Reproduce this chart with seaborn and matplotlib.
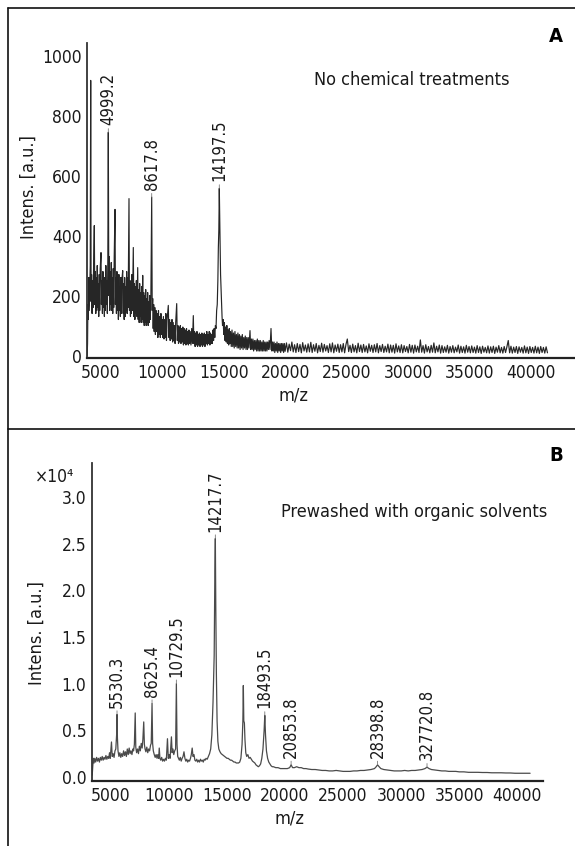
import matplotlib
matplotlib.use("Agg")
import matplotlib.pyplot as plt
from matplotlib import font_manager as fm
from matplotlib.lines import Line2D
from matplotlib.ticker import FormatStrFormatter
import numpy as np
import pandas as pd
import seaborn as sns

# ---------------- data (axis m/z units) ----------------
# Panel A: no chemical treatments (intensity, a.u.)
mz_a_head = [
    3900, 3930, 3960, 3990, 4030, 4070, 4110, 4150, 4187, 4220,
    4260, 4300, 4340, 4380, 4420, 4480, 4520, 4560, 4600, 4640,
    4680, 4720, 4760, 4800, 4840, 4880, 4920, 4960, 5025, 5060,
    5100, 5140, 5180, 5220, 5260, 5300, 5340, 5380, 5420, 5460,
    5500, 5540, 5580, 5619, 5660, 5700, 5740, 5780, 5820, 5860,
    5900, 5940, 5980, 6020, 6060, 6100, 6164, 6200, 6240, 6280,
    6320, 6360, 6400, 6440, 6480, 6520, 6560, 6600, 6640, 6680,
    6720, 6790, 6830, 6870, 6910, 6950, 6990, 7030, 7070, 7110,
    7150, 7190, 7230, 7302, 7340, 7380, 7420, 7460, 7500, 7540,
    7580, 7652, 7700, 7740, 7780, 7820, 7860, 7900, 7950, 8010,
    8050, 8090, 8130, 8170, 8210, 8250, 8290, 8330, 8370, 8417,
    8460, 8500, 8540, 8580, 8620, 8660, 8700, 8740, 8780, 8820,
    8860, 8900, 8940, 8980, 9030, 9080, 9149, 9190, 9230, 9270,
    9310, 9350, 9400, 9450, 9500, 9550, 9600, 9650, 9700, 9750,
    9800, 9850, 9900, 9950, 10000, 10050, 10100, 10150, 10200, 10250,
    10300, 10350, 10400, 10499, 10550, 10600, 10650, 10700, 10750, 10800,
    10850, 10900, 10950, 11000, 11050, 11100, 11182, 11230, 11280, 11330,
    11380, 11430, 11480, 11530, 11580, 11630, 11680, 11730, 11780, 11830,
    11880, 11930, 11980, 12030, 12080, 12130, 12180, 12230, 12280, 12340,
    12400, 12460, 12533, 12580, 12630, 12680, 12730, 12780, 12830, 12880,
    12930, 12980, 13030, 13080, 13130, 13180, 13230, 13280, 13330, 13380,
    13430, 13480, 13530, 13580, 13630, 13680, 13730, 13780, 13830, 13880,
    13930, 13980, 14030, 14080, 14130, 14180, 14230, 14280, 14330, 14380,
    14430, 14480, 14530, 14570, 14610, 14647, 14680, 14710, 14750, 14790,
    14830, 14870, 14910, 14960, 15010, 15060, 15110, 15160, 15210, 15260,
    15310, 15360, 15410, 15460, 15510, 15560, 15620, 15680, 15740, 15800,
    15860, 15920, 15980, 16040, 16100, 16160, 16220, 16280, 16340, 16400,
    16460, 16520, 16580, 16640, 16700, 16760, 16820, 16880, 16940, 17000,
    17060, 17144, 17200, 17260, 17320, 17380, 17440, 17500, 17560, 17620,
    17680, 17740, 17800, 17860, 17920, 17980, 18040, 18100, 18160, 18220,
    18280, 18340, 18400, 18460, 18520, 18580, 18640, 18700, 18770, 18853,
    18920, 18980, 19040, 19100, 19160, 19220, 19280, 19340, 19400, 19460,
    19520, 19580, 19640, 19700, 19760, 19820, 19880, 19940,
]
int_a_head = [
    0, 40, 170, 120, 260, 150, 230, 300, 917, 180,
    270, 140, 250, 160, 290, 433, 170, 280, 140, 260,
    150, 300, 160, 240, 130, 270, 150, 290, 343, 170,
    250, 140, 280, 160, 230, 130, 260, 150, 300, 170,
    250, 140, 320, 744, 200, 330, 150, 280, 170, 310,
    150, 260, 140, 290, 160, 330, 487, 170, 260, 140,
    280, 150, 240, 120, 270, 150, 230, 130, 260, 140,
    250, 283, 140, 240, 120, 260, 130, 230, 150, 280,
    140, 260, 160, 523, 150, 250, 130, 220, 140, 270,
    150, 360, 130, 240, 120, 230, 140, 250, 130, 293,
    120, 220, 110, 240, 130, 210, 110, 230, 120, 267,
    110, 210, 100, 200, 110, 220, 100, 190, 110, 210,
    100, 180, 110, 200, 120, 190, 528, 150, 190, 90,
    170, 80, 160, 70, 150, 80, 140, 60, 150, 70,
    130, 60, 140, 70, 120, 60, 130, 55, 120, 60,
    140, 50, 120, 167, 60, 120, 50, 110, 55, 120,
    45, 110, 50, 100, 40, 110, 173, 50, 100, 40,
    95, 45, 100, 40, 90, 45, 95, 35, 90, 40,
    85, 35, 90, 40, 80, 35, 85, 40, 80, 35,
    90, 40, 133, 40, 80, 30, 75, 35, 80, 30,
    70, 35, 75, 30, 70, 35, 75, 30, 70, 35,
    75, 30, 70, 40, 80, 35, 70, 40, 80, 35,
    75, 40, 70, 40, 85, 50, 90, 60, 100, 90,
    150, 170, 250, 360, 420, 557, 450, 380, 270, 220,
    160, 130, 100, 120, 70, 110, 50, 95, 45, 100,
    40, 85, 35, 90, 40, 80, 30, 85, 30, 75,
    25, 80, 30, 70, 25, 75, 25, 70, 20, 65,
    25, 70, 20, 60, 25, 65, 20, 60, 20, 60,
    25, 83, 20, 55, 20, 55, 15, 50, 20, 50,
    15, 55, 15, 50, 15, 50, 15, 45, 15, 50,
    15, 45, 15, 45, 15, 45, 20, 50, 20, 90,
    15, 45, 15, 45, 10, 40, 15, 45, 10, 40,
    15, 40, 10, 40, 15, 40, 10, 40,
]
mz_a_tail = [
    20000, 20110, 20220, 20330, 20440, 20550, 20660, 20770, 20880, 20990,
    21100, 21210, 21320, 21430, 21540, 21650, 21760, 21870, 21980, 22090,
    22200, 22310, 22420, 22530, 22640, 22750, 22860, 22970, 23080, 23190,
    23300, 23410, 23520, 23630, 23740, 23850, 23960, 24070, 24180, 24290,
    24400, 24510, 24620, 24730, 24840, 24950, 25060, 25170, 25280, 25390,
    25500, 25610, 25720, 25830, 25940, 26050, 26160, 26270, 26380, 26490,
    26600, 26710, 26820, 26930, 27040, 27150, 27260, 27370, 27480, 27590,
    27700, 27810, 27920, 28030, 28140, 28250, 28360, 28470, 28580, 28690,
    28800, 28910, 29020, 29130, 29240, 29350, 29460, 29570, 29680, 29790,
    29900, 30010, 30120, 30230, 30340, 30450, 30560, 30670, 30780, 30890,
    31000, 31110, 31220, 31330, 31440, 31550, 31660, 31770, 31880, 31990,
    32100, 32210, 32320, 32430, 32540, 32650, 32760, 32870, 32980, 33090,
    33200, 33310, 33420, 33530, 33640, 33750, 33860, 33970, 34080, 34190,
    34300, 34410, 34520, 34630, 34740, 34850, 34960, 35070, 35180, 35290,
    35400, 35510, 35620, 35730, 35840, 35950, 36060, 36170, 36280, 36390,
    36500, 36610, 36720, 36830, 36940, 37050, 37160, 37270, 37380, 37490,
    37600, 37710, 37820, 37930, 38040, 38150, 38260, 38370, 38480, 38590,
    38700, 38810, 38920, 39030, 39140, 39250, 39360, 39470, 39580, 39690,
    39800, 39910, 40020, 40130, 40240, 40350, 40460, 40570, 40680, 40790,
    40900, 41010, 41120, 41230, 41340,
]
int_a_tail = [
    14, 42, 11, 38, 16, 45, 12, 36, 10, 40,
    13, 37, 9, 43, 15, 35, 11, 39, 12, 44,
    10, 36, 14, 40, 9, 34, 13, 41, 11, 37,
    15, 33, 10, 39, 12, 42, 9, 35, 14, 38,
    10, 36, 12, 40, 9, 37, 55, 13, 34, 10,
    38, 12, 33, 9, 41, 13, 35, 10, 37, 12,
    32, 9, 39, 14, 34, 10, 36, 12, 40, 9,
    33, 13, 37, 10, 31, 12, 38, 9, 35, 11,
    34, 8, 39, 12, 32, 10, 36, 9, 33, 13,
    30, 9, 37, 11, 34, 8, 35, 12, 31, 10,
    52, 11, 33, 8, 36, 12, 30, 9, 34, 11,
    42, 9, 31, 12, 35, 8, 33, 10, 29, 11,
    34, 8, 30, 11, 33, 9, 28, 12, 35, 8,
    31, 10, 29, 8, 34, 11, 30, 9, 32, 10,
    28, 8, 33, 10, 29, 7, 31, 11, 27, 9,
    32, 8, 29, 10, 31, 7, 28, 11, 33, 9,
    27, 8, 30, 10, 29, 50, 9, 31, 8, 28,
    10, 30, 7, 29, 11, 27, 8, 32, 9, 28,
    7, 30, 10, 27, 8, 31, 9, 28, 7, 30,
    10, 27, 8, 29, 9,
]
peaks_a_label = ["4999.2", "8617.8", "14197.5"]
peaks_a_mz = [5619, 9149, 14647]
peaks_a_int = [744, 528, 557]

# Panel B: prewashed with organic solvents (intensity, x10^4 a.u.)
mz_b = [
    3400, 3450, 3500, 3560, 3620, 3700, 3780, 3860, 3940, 4020,
    4100, 4180, 4260, 4340, 4420, 4500, 4580, 4660, 4740, 4820,
    4890, 4950, 5058, 5120, 5200, 5280, 5360, 5430, 5500, 5535,
    5570, 5620, 5700, 5780, 5860, 5940, 6020, 6100, 6180, 6260,
    6340, 6420, 6500, 6580, 6660, 6740, 6820, 6900, 6960, 7030,
    7102, 7150, 7220, 7300, 7380, 7460, 7540, 7620, 7700, 7760,
    7835, 7890, 7950, 8020, 8100, 8180, 8260, 8340, 8420, 8480,
    8550, 8600, 8660, 8740, 8820, 8900, 8980, 9050, 9120, 9171,
    9230, 9300, 9380, 9460, 9540, 9620, 9700, 9780, 9878, 9950,
    10030, 10100, 10219, 10280, 10350, 10420, 10500, 10580, 10645, 10700,
    10760, 10830, 10900, 10980, 11060, 11140, 11220, 11300, 11380, 11460,
    11540, 11620, 11700, 11780, 11860, 11930, 12007, 12080, 12160, 12240,
    12320, 12400, 12480, 12560, 12640, 12720, 12800, 12880, 12960, 13040,
    13120, 13200, 13300, 13400, 13500, 13600, 13700, 13800, 13900, 13960,
    14000, 14040, 14090, 14150, 14220, 14300, 14400, 14500, 14600, 14700,
    14800, 14900, 15000, 15100, 15200, 15300, 15400, 15500, 15600, 15700,
    15800, 15900, 16000, 16100, 16200, 16300, 16370, 16410, 16450, 16500,
    16550, 16620, 16700, 16800, 16900, 17000, 17100, 17200, 17300, 17400,
    17500, 17600, 17700, 17800, 17900, 18000, 18100, 18200, 18257, 18320,
    18400, 18500, 18600, 18700, 18800, 18900, 19000, 19200, 19400, 19600,
    19800, 20000, 20200, 20400, 20523, 20650, 20800, 21000, 21200, 21400,
    21600, 21800, 22000, 22300, 22600, 22900, 23200, 23500, 23800, 24100,
    24400, 24700, 25000, 25300, 25600, 25900, 26200, 26500, 26800, 27100,
    27400, 27700, 27850, 27966, 28100, 28250, 28500, 28800, 29100, 29400,
    29700, 30000, 30300, 30600, 30900, 31200, 31500, 31800, 32050, 32224,
    32400, 32600, 32900, 33200, 33500, 33800, 34100, 34400, 34700, 35000,
    35400, 35800, 36200, 36600, 37000, 37400, 37800, 38200, 38600, 39000,
    39400, 39800, 40200, 40600, 41100,
]
int_b = [
    0.02, 0.12, 0.20, 0.15, 0.20, 0.16, 0.21, 0.17, 0.20, 0.16,
    0.21, 0.18, 0.22, 0.18, 0.21, 0.19, 0.23, 0.19, 0.22, 0.20,
    0.26, 0.20, 0.375, 0.22, 0.25, 0.21, 0.28, 0.30, 0.45, 0.67,
    0.42, 0.28, 0.22, 0.26, 0.21, 0.25, 0.22, 0.28, 0.23, 0.27,
    0.22, 0.30, 0.24, 0.31, 0.25, 0.28, 0.24, 0.30, 0.28, 0.35,
    0.686, 0.32, 0.26, 0.30, 0.25, 0.33, 0.28, 0.36, 0.31, 0.40,
    0.59, 0.35, 0.30, 0.27, 0.32, 0.26, 0.30, 0.28, 0.34, 0.36,
    0.787, 0.36, 0.28, 0.24, 0.21, 0.24, 0.20, 0.24, 0.20, 0.31,
    0.20, 0.18, 0.21, 0.17, 0.19, 0.17, 0.20, 0.18, 0.41, 0.20,
    0.24, 0.20, 0.43, 0.26, 0.30, 0.24, 0.28, 0.30, 1.00, 0.35,
    0.22, 0.20, 0.18, 0.21, 0.17, 0.20, 0.22, 0.27, 0.20, 0.17,
    0.19, 0.16, 0.18, 0.17, 0.20, 0.24, 0.31, 0.22, 0.24, 0.18,
    0.17, 0.19, 0.16, 0.18, 0.16, 0.19, 0.17, 0.18, 0.16, 0.19,
    0.18, 0.20, 0.19, 0.22, 0.25, 0.30, 0.45, 0.80, 1.30, 2.20,
    2.555, 1.80, 1.10, 0.60, 0.38, 0.30, 0.27, 0.25, 0.24, 0.23,
    0.22, 0.21, 0.20, 0.20, 0.19, 0.18, 0.18, 0.17, 0.16, 0.16,
    0.15, 0.15, 0.15, 0.16, 0.20, 0.35, 0.60, 0.98, 0.60, 0.58,
    0.40, 0.26, 0.22, 0.24, 0.20, 0.21, 0.19, 0.17, 0.16, 0.15,
    0.13, 0.12, 0.11, 0.12, 0.14, 0.20, 0.30, 0.50, 0.66, 0.45,
    0.28, 0.20, 0.16, 0.14, 0.12, 0.11, 0.11, 0.10, 0.10, 0.09,
    0.09, 0.09, 0.09, 0.10, 0.13, 0.10, 0.10, 0.11, 0.10, 0.10,
    0.09, 0.09, 0.085, 0.08, 0.08, 0.075, 0.07, 0.07, 0.065, 0.065,
    0.07, 0.065, 0.06, 0.06, 0.06, 0.065, 0.065, 0.07, 0.07, 0.075,
    0.08, 0.09, 0.11, 0.13, 0.11, 0.09, 0.08, 0.075, 0.07, 0.065,
    0.065, 0.065, 0.07, 0.065, 0.07, 0.07, 0.075, 0.08, 0.09, 0.105,
    0.09, 0.08, 0.075, 0.07, 0.065, 0.065, 0.06, 0.06, 0.06, 0.055,
    0.055, 0.05, 0.05, 0.05, 0.048, 0.048, 0.045, 0.045, 0.045, 0.043,
    0.043, 0.04, 0.04, 0.04, 0.04,
]
peaks_b_label = ["5530.3", "8625.4", "10729.5", "14217.7", "18493.5",
                 "20853.8", "28398.8", "327720.8"]
peaks_b_mz = [5535, 8550, 10645, 14000, 18257, 20523, 27966, 32224]
peaks_b_int = [0.67, 0.787, 1.00, 2.555, 0.66, 0.13, 0.13, 0.105]

xticks = [5000, 10000, 15000, 20000, 25000, 30000, 35000, 40000]
yticks_a = [0, 200, 400, 600, 800, 1000]
yticks_b = [0.0, 0.5, 1.0, 1.5, 2.0, 2.5, 3.0]

# ---------------- style ----------------
sns.set_theme(style="white")
fam, stretch, k = "DejaVu Sans", "normal", 0.9
for f in fm.fontManager.ttflist:
    if f.fname.lower().endswith("dejavusanscondensed.ttf"):
        fam, stretch, k = f.name, f.stretch, 1.0
        break
plt.rcParams["font.family"] = [fam, "DejaVu Sans"]
plt.rcParams["font.stretch"] = stretch

W, H = 575, 846
fig = plt.figure(figsize=(W / 100, H / 100), dpi=100)
fig.patch.set_facecolor("white")

TXT = "#1a1a1a"
TICK = 12.5 * k
ANN = 12.0 * k


def fx(px):
    return px / W


def fy(py):
    return 1 - py / H


def style_axes(ax):
    for s in ("top", "right"):
        ax.spines[s].set_visible(False)
    ax.spines["left"].set_color("#333333")
    ax.spines["bottom"].set_color("#222222")
    ax.spines["left"].set_linewidth(1.3)
    ax.spines["bottom"].set_linewidth(1.6)
    ax.tick_params(axis="both", length=0, labelsize=TICK, labelcolor=TXT, pad=4)
    ax.set_facecolor("white")
    ax.grid(False)


# ---------------- panel A ----------------
axA = fig.add_axes([fx(87), fy(358), fx(575 - 87), (358 - 43) / H])
mzA = mz_a_head + mz_a_tail
intA = int_a_head + int_a_tail
sns.lineplot(x=mzA, y=intA, ax=axA, color="#262626", linewidth=0.85,
             estimator=None, sort=False)
axA.set_xlim(3886, 43579)
axA.set_ylim(-8.3, 1041.7)
axA.set_xticks(xticks)
axA.set_yticks(yticks_a)
style_axes(axA)
axA.set_xlabel("m/z", fontsize=13 * k, color=TXT)
axA.set_ylabel("Intens. [a.u.]", fontsize=13 * k, color=TXT)
axA.xaxis.label.set_verticalalignment("center")
axA.yaxis.label.set_verticalalignment("center")
axA.xaxis.set_label_coords((293 - 87) / 488, (358 - 395) / 315)
axA.yaxis.set_label_coords((29 - 87) / 488, (358 - 187) / 315)
for lab, m, v in zip(peaks_a_label, peaks_a_mz, peaks_a_int):
    axA.annotate(lab, xy=(m, v), xytext=(0, 5), textcoords="offset points",
                 rotation=90, ha="center", va="bottom", fontsize=ANN, color=TXT,
                 arrowprops=dict(arrowstyle="-", color="#777777", lw=0.6,
                                 shrinkA=0, shrinkB=0))

# ---------------- panel B ----------------
axB = fig.add_axes([fx(92), fy(781), fx(543 - 92), (781 - 463) / H])
sns.lineplot(x=mz_b, y=int_b, ax=axB, color="#4a4a4a", linewidth=0.9,
             estimator=None, sort=False)
axB.set_xlim(3381, 42210)
axB.set_ylim(-0.043, 3.364)
axB.set_xticks(xticks)
axB.set_yticks(yticks_b)
axB.yaxis.set_major_formatter(FormatStrFormatter("%.1f"))
style_axes(axB)
axB.set_xlabel("m/z", fontsize=13 * k, color=TXT)
axB.set_ylabel("Intens. [a.u.]", fontsize=13 * k, color=TXT)
axB.xaxis.label.set_verticalalignment("center")
axB.yaxis.label.set_verticalalignment("center")
axB.xaxis.set_label_coords((290 - 92) / 451, (781 - 818) / 318)
axB.yaxis.set_label_coords((37 - 92) / 451, (781 - 633) / 318)
for lab, m, v in zip(peaks_b_label, peaks_b_mz, peaks_b_int):
    axB.annotate(lab, xy=(m, v), xytext=(0, 5), textcoords="offset points",
                 rotation=90, ha="center", va="bottom", fontsize=ANN, color=TXT,
                 arrowprops=dict(arrowstyle="-", color="#777777", lw=0.6,
                                 shrinkA=0, shrinkB=0))

# ---------------- figure texts ----------------
fig.text(fx(412), fy(80), "No chemical treatments", ha="center", va="center",
         fontsize=13 * k, color=TXT)
fig.text(fx(414), fy(512), "Prewashed with organic solvents", ha="center",
         va="center", fontsize=13 * k, color=TXT)
fig.text(fx(556), fy(36), "A", ha="center", va="center", fontsize=14.5 * k,
         fontweight="bold", color="#000000")
fig.text(fx(556), fy(455), "B", ha="center", va="center", fontsize=14.5 * k,
         fontweight="bold", color="#000000")
fig.text(fx(74), fy(477), "×10⁴", ha="right", va="center", fontsize=12.5 * k,
         color=TXT)

# frame lines
for xs, ys in (((8, 575), (8, 8)), ((8, 8), (8, 846)), ((8, 575), (429, 429))):
    fig.add_artist(Line2D([fx(xs[0]), fx(xs[1])], [fy(ys[0]), fy(ys[1])],
                          transform=fig.transFigure, color="#111111", lw=1.2))

fig.savefig("out.png", dpi=100, facecolor="white")
